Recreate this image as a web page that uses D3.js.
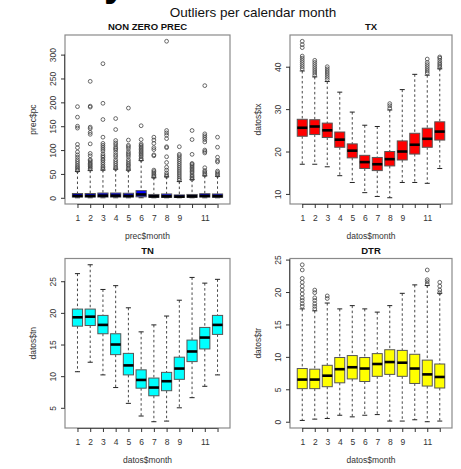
<!DOCTYPE html>
<html>
<head>
<meta charset="utf-8">
<script src="https://cdn.jsdelivr.net/npm/d3@7"></script>
<style>
  body { margin: 0; background: #fff; }
  text { font-family: "Liberation Sans", Arial, sans-serif; }
</style>
</head>
<body>
<svg id="chart" width="461" height="469"></svg>
<script>
// months on the x axis, R drops the 10 and 12 labels
let months = [1, 2, 3, 4, 5, 6, 7, 8, 9, 10, 11, 12];
let monthLabels = ["1", "2", "3", "4", "5", "6", "7", "8", "9", "", "11", ""];

// NON ZERO PREC
let precLow  = [0.1, 0.1, 0.1, 0.1, 0.1, 0.1, 0.1, 0.1, 0.1, 0.1, 0.1, 0.1];
let precQ1   = [1.5, 1.5, 1.5, 1.5, 1.5, 2, 1, 1, 0.8, 1, 1.5, 1];
let precMed  = [4, 4, 4.5, 4.5, 4, 7, 3, 3, 2.5, 3, 4, 3.5];
let precQ3   = [9, 9, 10, 10, 9.5, 15, 7, 8, 6, 7, 8.5, 8];
let precHigh = [55, 57, 58, 60, 58, 78, 42, 44, 34, 38, 46, 45];
let precOut = [
    [191, 169, 150, 146, 112, 105, 96, 90, 85, 80, 76, 72, 68, 65, 62, 59, 57],
    [244, 192, 190, 148, 145, 137, 133, 113, 93, 88, 80, 78, 75, 72, 70, 67, 65, 62, 60],
    [281, 198, 164, 127, 114, 110, 106, 102, 98, 92, 88, 85, 81, 78, 74, 70, 66, 63, 60],
    [166, 143, 120, 115, 111, 106, 103, 100, 95, 90, 86, 80, 76, 72, 68, 64, 61],
    [188, 121, 110, 107, 103, 97, 93, 90, 86, 80, 76, 72, 69, 66, 62, 59],
    [151, 122, 113, 110, 107, 104, 101, 98, 95, 92, 89, 86, 82, 80],
    [127, 121, 114, 105, 101, 90, 88, 58, 55, 52, 49, 46, 44],
    [328, 141, 136, 131, 124, 107, 105, 86, 74, 64, 58, 52, 48, 45],
    [107, 91, 88, 84, 80, 76, 72, 68, 64, 60, 56, 52, 48, 44, 40, 37],
    [141, 122, 91, 72, 70, 67, 64, 61, 58, 55, 52, 48, 45, 42, 39],
    [235, 134, 130, 126, 122, 117, 100, 97, 94, 63, 57, 54, 51, 48],
    [127, 106, 85, 78, 75, 56, 53, 50, 47]
];
let precTicks = [0, 50, 100, 150, 200, 250, 300];

// TX
let txLow  = [17.0, 17.0, 16.4, 14.3, 12.7, 10.3, 9.4, 9.1, 12.7, 12.7, 12.5, 16.0];
let txQ1   = [23.6, 24.0, 23.3, 21.0, 18.5, 16.0, 15.5, 16.6, 18.0, 19.4, 21.0, 22.7];
let txMed  = [25.6, 25.9, 25.0, 22.8, 20.2, 17.5, 17.0, 18.2, 20.0, 21.6, 23.0, 24.7];
let txQ3   = [27.6, 27.5, 26.7, 24.6, 21.8, 19.1, 18.6, 20.0, 22.5, 24.3, 25.5, 27.0];
let txHigh = [39.0, 37.6, 36.5, 34.0, 29.3, 26.2, 25.9, 29.8, 34.6, 38.2, 38.0, 39.5];
let txOut = [
    [46.0, 45.2, 44.5, 42.5, 42.0, 41.5, 41.0, 40.5, 40.0, 39.5],
    [41.5, 41.0, 40.5, 40.0, 39.5, 39.0, 38.5, 38.0],
    [40.0, 39.5, 39.0, 38.5, 38.0, 37.5, 37.0],
    [], [], [], [],
    [31.3, 30.8, 30.2],
    [], [],
    [41.8, 41.0, 40.5, 40.0, 39.5, 39.0, 38.5],
    [42.3, 42.0, 41.5, 41.0, 40.6, 40.2, 39.8]
];
let txTicks = [10, 20, 30, 40];

// TN
let tnLow  = [10.7, 12.2, 10.2, 8.2, 5.7, 3.7, 2.8, 2.9, 5.0, 6.6, 8.4, 10.2];
let tnQ1   = [17.9, 18.0, 16.7, 13.4, 10.2, 8.1, 6.9, 7.7, 9.5, 12.3, 14.3, 16.6];
let tnMed  = [19.3, 19.4, 18.1, 15.0, 11.7, 9.4, 8.2, 9.2, 11.2, 13.9, 16.1, 18.1];
let tnQ3   = [20.6, 20.6, 19.6, 16.7, 13.6, 11.0, 9.7, 10.6, 13.0, 15.7, 17.7, 19.6];
let tnHigh = [26.2, 27.6, 23.7, 24.3, 20.8, 17.0, 18.1, 19.5, 22.0, 25.6, 24.7, 25.3];
let tnTicks = [5, 10, 15, 20, 25];

// DTR
let dtrLow  = [0.2, 0.4, 0.5, 1.0, 0.75, 1.0, 1.1, 0.1, 0.1, 0.3, 0.0, 0.1];
let dtrQ1   = [5.1, 5.1, 5.4, 6.0, 6.6, 6.2, 7.0, 7.3, 7.0, 5.9, 5.5, 5.2];
let dtrMed  = [6.5, 6.5, 7.1, 8.1, 8.4, 8.2, 8.9, 9.2, 9.1, 8.2, 7.3, 6.9];
let dtrQ3   = [8.2, 8.1, 8.7, 9.9, 10.2, 9.9, 10.5, 11.1, 11.0, 10.4, 9.5, 8.9];
let dtrHigh = [17.4, 17.1, 18.3, 17.4, 17.9, 17.4, 16.9, 17.9, 19.8, 21.1, 21.0, 19.8];
let dtrOut = [
    [24.2, 23.4, 22.1, 21.5, 20.9, 20.3, 19.7, 19.1, 18.7, 18.2, 17.8],
    [20.3, 19.9, 19.1, 18.7, 18.2, 17.8, 17.4],
    [19.4, 19.0],
    [], [], [], [], [], [], [],
    [23.4, 21.9, 21.6, 21.2],
    [21.5, 20.9, 20.3, 19.9]
];
let dtrTicks = [0, 5, 10, 15, 20, 25];

let svg = d3.select("#chart");

svg.append("rect").attr("width", 461).attr("height", 469).attr("fill", "#fff");

// clipped bottom of a bigger title above the figure
svg.append("text")
    .attr("x", 104).attr("y", -4)
    .style("font-size", "40px").style("font-weight", "bold")
    .attr("fill", "#000")
    .text("y");

svg.append("text")
    .attr("x", 253).attr("y", 17)
    .attr("text-anchor", "middle")
    .style("font-size", "13.5px")
    .attr("fill", "#111")
    .text("Outliers per calendar month");

drawBoxPanel({
    left: 65, right: 230, top: 35, bottom: 204,
    title: "NON ZERO PREC", xTitle: "prec$month", yTitle: "prec$pc",
    low: precLow, q1: precQ1, med: precMed, q3: precQ3, high: precHigh, out: precOut,
    ticks: precTicks, fill: "#0000ff"
});
drawBoxPanel({
    left: 290, right: 452, top: 35, bottom: 204,
    title: "TX", xTitle: "datos$month", yTitle: "datos$tx",
    low: txLow, q1: txQ1, med: txMed, q3: txQ3, high: txHigh, out: txOut,
    ticks: txTicks, fill: "#ff0000"
});
drawBoxPanel({
    left: 65, right: 230, top: 258.5, bottom: 428,
    title: "TN", xTitle: "datos$month", yTitle: "datos$tn",
    low: tnLow, q1: tnQ1, med: tnMed, q3: tnQ3, high: tnHigh, out: months.map(() => []),
    ticks: tnTicks, fill: "#00ffff"
});
drawBoxPanel({
    left: 290, right: 452, top: 258.5, bottom: 428,
    title: "DTR", xTitle: "datos$month", yTitle: "datos$tr",
    low: dtrLow, q1: dtrQ1, med: dtrMed, q3: dtrQ3, high: dtrHigh, out: dtrOut,
    ticks: dtrTicks, fill: "#ffff00"
});

function drawBoxPanel(opt) {
    // R style limits: 0.5..12.5 and data range, both padded by 4%
    let allVals = opt.low.concat(opt.high, d3.merge(opt.out));
    let yMin = d3.min(allVals), yMax = d3.max(allVals);
    let pad = (yMax - yMin) * 0.04;

    let x = d3.scaleLinear()
        .domain([0.5 - 0.48, 12.5 + 0.48])
        .range([opt.left, opt.right]);
    let y = d3.scaleLinear()
        .domain([yMin - pad, yMax + pad])
        .range([opt.bottom, opt.top]);

    // boxwex 0.8, staple half of it
    let boxW = x(1.8) - x(1);
    let capW = boxW / 2;

    let g = svg.append("g");
    let rows = months.map((m, i) => ({
        m: m, low: opt.low[i], q1: opt.q1[i], med: opt.med[i],
        q3: opt.q3[i], high: opt.high[i], out: opt.out[i]
    }));

    let box = g.selectAll("g.box").data(rows).enter().append("g").attr("class", "box");

    // dashed whiskers
    box.append("line")
        .attr("x1", d => x(d.m)).attr("x2", d => x(d.m))
        .attr("y1", d => y(d.high)).attr("y2", d => y(d.q3))
        .attr("stroke", "#333").attr("stroke-width", 0.9).attr("stroke-dasharray", "2.5,2.5");
    box.append("line")
        .attr("x1", d => x(d.m)).attr("x2", d => x(d.m))
        .attr("y1", d => y(d.q1)).attr("y2", d => y(d.low))
        .attr("stroke", "#333").attr("stroke-width", 0.9).attr("stroke-dasharray", "2.5,2.5");
    // caps
    box.selectAll("line.cap")
        .data(d => [{ m: d.m, v: d.low }, { m: d.m, v: d.high }])
        .enter().append("line").attr("class", "cap")
        .attr("x1", d => x(d.m) - capW / 2).attr("x2", d => x(d.m) + capW / 2)
        .attr("y1", d => y(d.v)).attr("y2", d => y(d.v))
        .attr("stroke", "#222").attr("stroke-width", 1);

    box.append("rect")
        .attr("x", d => x(d.m) - boxW / 2)
        .attr("y", d => y(d.q3))
        .attr("width", boxW)
        .attr("height", d => y(d.q1) - y(d.q3))
        .attr("fill", opt.fill)
        .attr("stroke", "#555").attr("stroke-width", 1);

    box.append("line")
        .attr("x1", d => x(d.m) - boxW / 2).attr("x2", d => x(d.m) + boxW / 2)
        .attr("y1", d => y(d.med)).attr("y2", d => y(d.med))
        .attr("stroke", "#000").attr("stroke-width", 2.6);

    // outliers
    box.selectAll("circle")
        .data(d => d.out.map(v => ({ m: d.m, v: v })))
        .enter().append("circle")
        .attr("cx", d => x(d.m)).attr("cy", d => y(d.v))
        .attr("r", 1.9)
        .attr("fill", "none").attr("stroke", "#444").attr("stroke-width", 0.8);

    // frame
    g.append("rect")
        .attr("x", opt.left).attr("y", opt.top)
        .attr("width", opt.right - opt.left).attr("height", opt.bottom - opt.top)
        .attr("fill", "none").attr("stroke", "#8a8a8a").attr("stroke-width", 1.2);

    // axes
    let xAxis = d3.axisBottom(x)
        .tickValues(months)
        .tickSize(4).tickPadding(7)
        .tickFormat((d, i) => monthLabels[i]);
    let gx = g.append("g").attr("transform", `translate(0,${opt.bottom})`).call(xAxis);
    gx.select(".domain")
        .attr("d", `M${x(1)},0.5H${x(12)}`)
        .attr("stroke", "#555");
    gx.selectAll(".tick line").attr("stroke", "#333");
    gx.selectAll("text").style("font-size", "8.5px").attr("fill", "#333")
        .style("font-family", "Liberation Sans, Arial, sans-serif");

    let yAxis = d3.axisLeft(y).tickValues(opt.ticks).tickSize(4).tickPadding(0);
    let gy = g.append("g").attr("transform", `translate(${opt.left},0)`).call(yAxis);
    gy.select(".domain")
        .attr("d", `M-0.5,${y(opt.ticks[0])}V${y(opt.ticks[opt.ticks.length - 1])}`)
        .attr("stroke", "#555");
    gy.selectAll(".tick line").attr("stroke", "#333");
    gy.selectAll("text")
        .attr("x", 0).attr("dy", 0)
        .attr("transform", "translate(-9,0) rotate(-90)")
        .attr("text-anchor", "middle")
        .style("font-size", "8.5px").attr("fill", "#333")
        .style("font-family", "Liberation Sans, Arial, sans-serif");

    let cx = (opt.left + opt.right) / 2;
    g.append("text")
        .attr("x", cx).attr("y", opt.top - 5)
        .attr("text-anchor", "middle")
        .style("font-size", "9.5px").style("font-weight", "bold")
        .attr("fill", "#111")
        .text(opt.title);

    g.append("text")
        .attr("x", cx).attr("y", opt.bottom + 35)
        .attr("text-anchor", "middle")
        .style("font-size", "8.5px").attr("fill", "#333")
        .text(opt.xTitle);

    let cy = (opt.top + opt.bottom) / 2;
    g.append("text")
        .attr("transform", `translate(${opt.left - 29},${cy}) rotate(-90)`)
        .attr("text-anchor", "middle")
        .style("font-size", "8.5px").attr("fill", "#333")
        .text(opt.yTitle);
}
</script>
</body>
</html>
